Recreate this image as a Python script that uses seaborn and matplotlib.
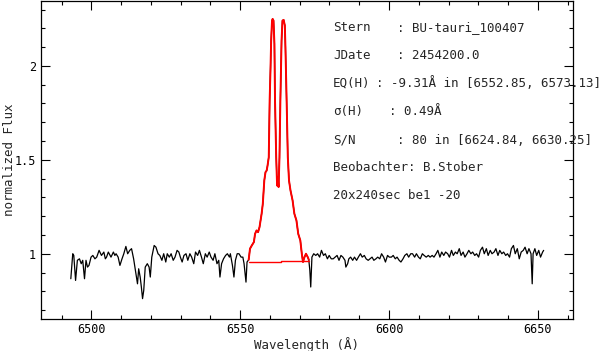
import matplotlib
matplotlib.use("Agg")
import matplotlib.pyplot as plt
import seaborn as sns
import pandas as pd
from matplotlib.ticker import MultipleLocator

# ---- data ----
wl_blue = [6493.1, 6493.75, 6494.1, 6494.7, 6495.3, 6496.0, 6496.6, 6497.1, 6497.7, 6498.2,
           6498.7, 6499.2, 6499.9, 6500.5, 6501.2, 6501.8, 6502.6, 6503.4, 6504.2, 6504.7,
           6505.1, 6505.7, 6506.3, 6506.6, 6507.4, 6507.9, 6508.3, 6509.0, 6509.6, 6510.3,
           6510.9, 6511.6, 6512.2, 6512.9, 6513.5, 6514.2, 6514.8, 6515.5, 6515.9, 6516.4,
           6516.8, 6517.2, 6517.6, 6518.1, 6518.8, 6519.4, 6519.8, 6520.3, 6521.1, 6521.7,
           6522.4, 6523.0, 6523.7, 6524.3, 6525.0, 6525.5, 6526.2, 6526.8, 6527.5, 6528.1,
           6528.8, 6529.4, 6529.9, 6530.5, 6531.1, 6531.8, 6532.4, 6533.1, 6533.7, 6534.4,
           6535.0, 6535.7, 6536.3, 6537.0, 6537.6, 6538.3, 6538.9, 6539.6, 6540.2, 6540.9,
           6541.5, 6542.2, 6542.8, 6543.2, 6543.75, 6544.4, 6545.1, 6545.7, 6546.4, 6546.7,
           6547.4, 6547.9, 6548.4, 6549.0, 6549.6, 6550.3, 6550.9, 6551.3, 6551.95, 6552.3]
fx_blue = [0.867, 1.000, 0.991, 0.858, 0.965, 0.973, 0.947, 0.965, 0.867, 0.965,
           0.929, 0.938, 0.982, 0.991, 0.973, 0.982, 1.018, 0.991, 1.009, 0.973,
           0.982, 1.009, 0.991, 0.982, 1.009, 0.991, 1.000, 0.982, 0.938, 0.973,
           1.000, 1.039, 1.000, 1.018, 1.027, 0.973, 0.911, 0.840, 0.920, 0.876,
           0.823, 0.761, 0.805, 0.929, 0.947, 0.929, 0.876, 0.982, 1.044, 1.035,
           1.000, 0.991, 0.965, 1.000, 0.956, 1.000, 0.982, 1.000, 0.965, 0.982,
           1.018, 1.009, 0.982, 0.956, 0.991, 1.000, 0.965, 1.000, 0.982, 0.947,
           1.009, 0.991, 1.018, 0.982, 0.947, 1.000, 0.982, 1.009, 0.982, 0.965,
           1.000, 0.947, 0.965, 0.876, 0.947, 0.973, 0.991, 1.000, 0.982, 1.000,
           0.938, 0.876, 0.965, 1.000, 1.000, 0.982, 0.982, 0.947, 0.849, 0.956]

wl_halpha = [6552.85, 6553.3, 6553.9, 6554.6, 6555.0, 6555.5, 6556.0, 6556.5, 6557.2, 6557.6,
             6558.1, 6558.5, 6558.9, 6559.2, 6559.6, 6559.9, 6560.2, 6560.4, 6560.7, 6560.9,
             6561.2, 6561.5, 6561.7, 6562.1, 6562.4, 6562.6, 6562.9, 6563.2, 6563.5, 6563.9,
             6564.2, 6564.6, 6565.0, 6565.2, 6565.6, 6566.0, 6566.4, 6566.9, 6567.6, 6568.2,
             6568.9, 6569.5, 6570.2, 6570.7, 6571.1, 6571.6, 6572.1, 6572.7, 6573.05]
fx_halpha = [0.968, 1.027, 1.044, 1.062, 1.106, 1.124, 1.115, 1.142, 1.213, 1.266,
             1.390, 1.434, 1.443, 1.470, 1.514, 1.816, 1.993, 2.135, 2.241, 2.250,
             2.241, 2.117, 1.816, 1.514, 1.363, 1.408, 1.355, 1.514, 1.816, 2.135,
             2.241, 2.245, 2.215, 2.099, 1.816, 1.514, 1.390, 1.337, 1.284, 1.213,
             1.177, 1.106, 1.071, 1.000, 0.956, 0.982, 1.000, 0.982, 0.968]

wl_red = [6573.4, 6573.7, 6574.1, 6574.7, 6575.4, 6576.0, 6576.7, 6577.3, 6578.0, 6578.6,
          6579.3, 6579.9, 6580.6, 6581.25, 6581.9, 6582.55, 6583.2, 6583.85, 6584.5, 6585.2,
          6585.5, 6586.1, 6586.5, 6587.1, 6587.8, 6588.4, 6589.1, 6589.7, 6590.4, 6591.0,
          6591.7, 6592.3, 6593.0, 6593.6, 6594.3, 6594.9, 6595.6, 6596.2, 6596.9, 6597.5,
          6598.2, 6598.8, 6599.5, 6600.1, 6600.8, 6601.4, 6602.1, 6602.7, 6603.4, 6604.0,
          6604.7, 6605.3, 6606.0, 6606.6, 6607.3, 6607.9, 6608.6, 6609.2, 6609.9, 6610.5,
          6611.2, 6611.8, 6612.5, 6613.2, 6613.8, 6614.5, 6615.1, 6615.8, 6616.4, 6617.1,
          6617.7, 6618.4, 6619.0, 6619.7, 6620.3, 6621.0, 6621.6, 6622.3, 6622.9, 6623.6,
          6624.2, 6624.9, 6625.5, 6626.2, 6626.8, 6627.5, 6628.1, 6628.8, 6629.4, 6630.1,
          6630.7, 6631.4, 6632.0, 6632.7, 6633.3, 6634.0, 6634.6, 6635.3, 6635.9, 6636.6,
          6637.2, 6637.9, 6638.5, 6639.2, 6639.8, 6640.5, 6641.1, 6641.8, 6642.4, 6643.1,
          6643.75, 6644.4, 6645.1, 6645.7, 6646.4, 6647.0, 6647.7, 6648.1, 6648.4, 6649.0,
          6649.6, 6650.3, 6650.9, 6651.6, 6651.95]
fx_red = [0.911, 0.823, 0.982, 1.000, 0.991, 1.000, 0.982, 1.018, 0.991, 1.000,
          0.973, 0.991, 0.973, 0.973, 0.982, 0.991, 0.965, 0.991, 0.982, 0.965,
          0.929, 0.947, 0.973, 0.982, 0.965, 0.982, 0.965, 0.982, 1.000, 0.982,
          0.991, 0.973, 0.965, 0.973, 0.982, 0.965, 0.973, 0.982, 0.973, 1.000,
          0.982, 0.956, 0.991, 0.982, 0.982, 0.991, 0.973, 0.982, 0.965, 0.956,
          0.973, 0.991, 1.000, 0.982, 1.000, 1.000, 0.982, 1.000, 0.982, 0.973,
          1.000, 0.991, 0.982, 0.991, 0.982, 0.991, 0.982, 1.000, 1.018, 0.982,
          1.009, 0.991, 1.009, 1.000, 0.982, 1.018, 0.991, 1.009, 1.000, 1.027,
          0.991, 1.009, 0.982, 1.000, 1.018, 1.000, 1.009, 0.991, 1.000, 0.982,
          1.018, 1.035, 1.000, 1.027, 0.991, 1.018, 1.000, 1.009, 1.027, 0.991,
          1.018, 1.000, 1.009, 0.991, 1.000, 0.982, 1.027, 1.044, 1.000, 1.027,
          0.973, 1.009, 1.018, 1.035, 1.000, 1.027, 1.000, 0.840, 1.000, 1.027,
          0.991, 1.018, 0.982, 1.009, 1.018]

wl_base = [6552.85, 6563.6, 6563.6, 6573.1]
fx_base = [0.958, 0.958, 0.963, 0.963]

x_ticks = [6500, 6550, 6600, 6650]
y_ticks = [1, 1.5, 2]
y_ticklabels = ["1", "1.5", "2"]

info_labels = ["Stern", "JDate", "EQ(H)", "\u03c3(H)", "S/N", "Beobachter: B.Stober", "20x240sec be1 -20"]
info_values = [": BU-tauri_100407", ": 2454200.0", ": -9.31\u00c5 in [6552.85, 6573.13]",
               ": 0.49\u00c5", ": 80 in [6624.84, 6630.25]", "", ""]

# ---- figure ----
sns.set_style("ticks")
plt.rcParams["font.family"] = ["DejaVu Sans Mono", "DejaVu Sans"]

W, H = 608, 351
fig = plt.figure(figsize=(6.08, 3.51), dpi=100)
ax = fig.add_axes([0.068, 0.0903, 0.8744, 0.9077])

full = pd.DataFrame({"wl": wl_blue + wl_halpha + wl_red,
                     "flux": fx_blue + fx_halpha + fx_red})
sns.lineplot(data=full, x="wl", y="flux", ax=ax, color="black", lw=0.9,
             sort=False, estimator=None)
hal = pd.DataFrame({"wl": wl_halpha, "flux": fx_halpha})
sns.lineplot(data=hal, x="wl", y="flux", ax=ax, color="#ff0000", lw=1.4,
             sort=False, estimator=None)
base = pd.DataFrame({"wl": wl_base, "flux": fx_base})
sns.lineplot(data=base, x="wl", y="flux", ax=ax, color="#ff0000", lw=1.0,
             sort=False, estimator=None)

ax.set_xlim(6483.2, 6661.8)
ax.set_ylim(0.651, 2.347)
ax.set_xticks(x_ticks)
ax.set_xticklabels([str(v) for v in x_ticks])
ax.set_yticks(y_ticks)
ax.set_yticklabels(y_ticklabels)
ax.xaxis.set_minor_locator(MultipleLocator(10))
ax.yaxis.set_minor_locator(MultipleLocator(0.1))
ax.tick_params(which="both", direction="in", top=True, right=True,
               width=0.8, color="black", labelsize=8.5, labelcolor="black")
ax.tick_params(which="major", length=6.2)
ax.tick_params(which="minor", length=3.0)
ax.tick_params(axis="x", which="major", pad=3)
ax.tick_params(axis="y", which="major", pad=4)
for s in ax.spines.values():
    s.set_visible(True)
    s.set_linewidth(0.9)
    s.set_color("black")

ax.set_xlabel("Wavelength (\u00c5)", fontsize=9)
ax.set_ylabel("normalized Flux", fontsize=9)
ax_w = 0.8744 * W
ax_h = 0.9077 * H
ax_bottom_px = H * (1 - 0.0903)
ax.xaxis.set_label_coords((306 - 0.068 * W) / ax_w, -(344.5 - ax_bottom_px) / ax_h)
ax.xaxis.label.set_va("center")
ax.yaxis.set_label_coords((10 - 0.068 * W) / ax_w, 0.5)
ax.yaxis.label.set_va("center")

# info block
label_x = 333
value_x = [397, 397, 376, 389, 397, None, None]
line_y = [27.3, 55.7, 83.3, 111.7, 140.0, 167.7, 195.7]
for lab, val, vx, ly in zip(info_labels, info_values, value_x, line_y):
    fig.text(label_x / W, 1 - ly / H, lab, fontsize=9, va="center", ha="left")
    if val:
        fig.text(vx / W, 1 - ly / H, val, fontsize=9, va="center", ha="left")

fig.savefig("out.png", dpi=100)
